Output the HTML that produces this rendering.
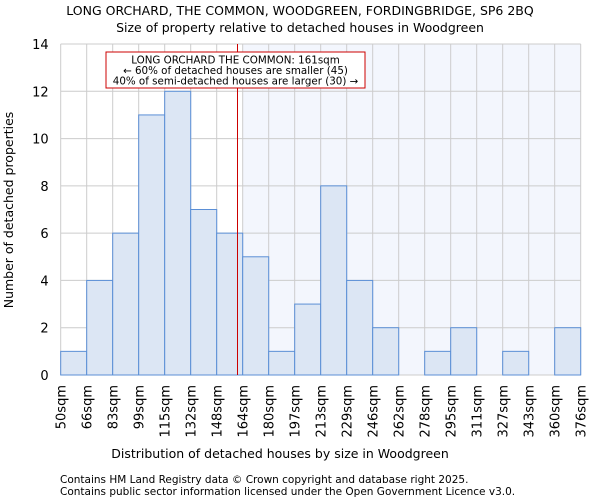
<!DOCTYPE html>
<html><head><meta charset="utf-8"><style>
body{margin:0;background:#fff;font-family:"DejaVu Sans","Liberation Sans",sans-serif;}
svg text{font-family:"DejaVu Sans","Liberation Sans",sans-serif;fill:#000;}
</style></head><body>
<svg id="c" width="600" height="500">
<text x="300" y="15" text-anchor="middle" font-size="12.5">LONG ORCHARD, THE COMMON, WOODGREEN, FORDINGBRIDGE, SP6 2BQ</text>
<text x="300" y="32" text-anchor="middle" font-size="12.5">Size of property relative to detached houses in Woodgreen</text>
<g id="plot"></g>
<text x="280" y="458" text-anchor="middle" font-size="12.5">Distribution of detached houses by size in Woodgreen</text>
<text transform="translate(13,210) rotate(-90)" text-anchor="middle" font-size="12.5">Number of detached properties</text>
<text x="60" y="483" font-size="10.5">Contains HM Land Registry data © Crown copyright and database right 2025.</text>
<text x="60" y="495" font-size="10.5">Contains public sector information licensed under the Open Government Licence v3.0.</text>
</svg>
<script>
const binLabels=["50sqm","66sqm","83sqm","99sqm","115sqm","132sqm","148sqm","164sqm","180sqm","197sqm","213sqm","229sqm","246sqm","262sqm","278sqm","295sqm","311sqm","327sqm","343sqm","360sqm","376sqm"];
const counts=[1,4,6,11,12,7,6,5,1,3,8,4,2,0,1,2,0,1,0,2];
const yTicks=[0,2,4,6,8,10,12,14];
const markerBin=6.8;
const NS="http://www.w3.org/2000/svg";
const g=document.getElementById('plot');
const L=60.7,R=580.7,T=44,B=375,yMax=14;
const bw=(R-L)/counts.length;
const xS=i=>L+i*bw, yS=v=>B-(v/yMax)*(B-T);
function mk(t,a){const e=document.createElementNS(NS,t);for(const k in a)e.setAttribute(k,a[k]);g.appendChild(e);return e;}
let e;
e=mk('rect',{x:L,y:T,width:R-L,height:B-T,fill:'#fff'});


const sx=xS(Math.ceil(markerBin));
e=mk('rect',{x:sx,y:T,width:R-sx,height:B-T,fill:'#f3f6fd'});


yTicks.forEach(v=>{
 e=mk('line',{x1:L,x2:R,y1:yS(v),y2:yS(v),stroke:'#cccccc','stroke-width':1});
 
 
 e=mk('text',{x:L-12,y:yS(v)+5,'text-anchor':'end','font-size':13});
 e.textContent=v;
 
 
});
binLabels.forEach((s,i)=>{
 e=mk('line',{x1:xS(i),x2:xS(i),y1:T,y2:B,stroke:'#cccccc','stroke-width':1});
 
 
 e=mk('text',{transform:`translate(${xS(i)+5},${B+10}) rotate(-90)`,'text-anchor':'end','font-size':13});
 e.textContent=s;
 
 
});
counts.forEach((v,i)=>{
 if(v<=0)return;
 e=mk('rect',{x:xS(i),y:yS(v),width:bw,height:B-yS(v),fill:'#dce6f4',stroke:'#5b8fd6','stroke-width':1});
 
 
});
const mx=xS(markerBin);
e=mk('line',{x1:mx,x2:mx,y1:T,y2:B,stroke:'#cc0000','stroke-width':1});


e=mk('rect',{x:106,y:52,width:259,height:36,fill:'#fff',stroke:'#cc0000','stroke-width':1});


["LONG ORCHARD THE COMMON: 161sqm","← 60% of detached houses are smaller (45)","40% of semi-detached houses are larger (30) →"].forEach((s,i)=>{
 e=mk('text',{x:235.5,y:63.5+i*10.5,'text-anchor':'middle','font-size':10.3});
 e.textContent=s;
 
 
});
</script>
</body></html>
